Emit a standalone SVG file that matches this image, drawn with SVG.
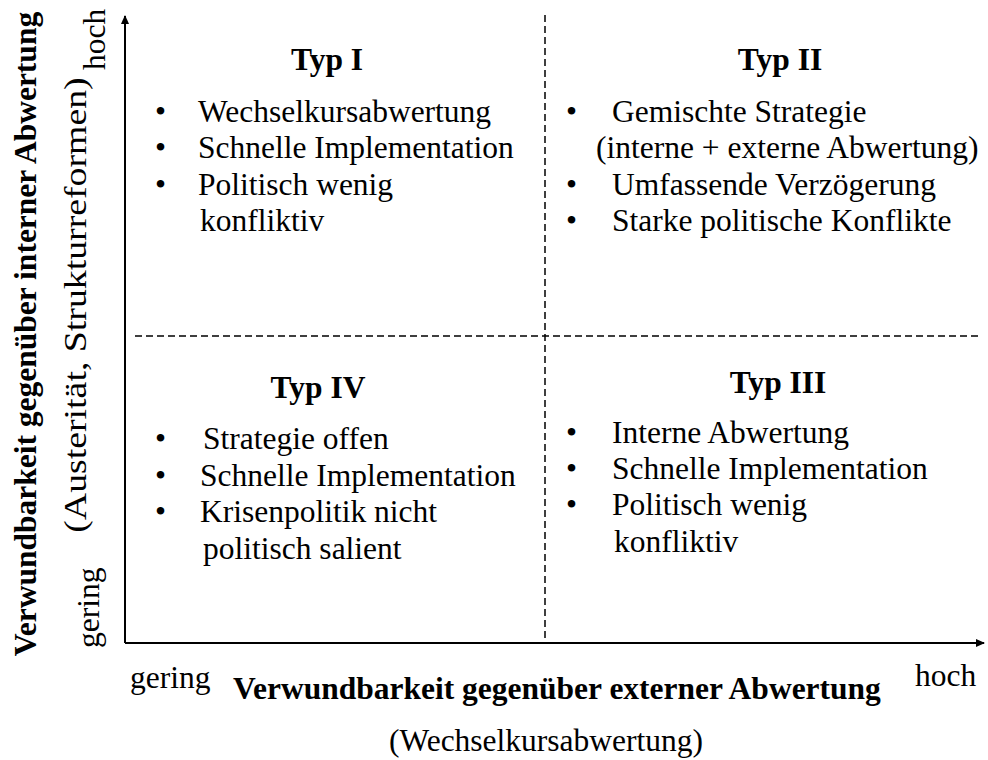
<svg xmlns="http://www.w3.org/2000/svg" width="988" height="760" viewBox="0 0 988 760">
<style>
text{font-family:"Liberation Serif","Times New Roman",Tinos,serif;font-size:31.5px;fill:#000}
.b{font-weight:bold}
.m{text-anchor:middle}
.axis{stroke:#000;stroke-width:2;fill:none}
.dash{stroke:#000;stroke-width:1.5;stroke-dasharray:7 4;fill:none}
</style>
<defs>
<marker id="arr" markerWidth="10" markerHeight="10" refX="8" refY="5" orient="auto" markerUnits="userSpaceOnUse">
<path d="M0,1 L9,5 L0,9 Z" fill="#000"/>
</marker>
</defs>
<rect width="988" height="760" fill="#fff"/>
<g id="connectors">
<line class="dash" x1="545" y1="15" x2="545" y2="643"/>
<line class="dash" x1="135" y1="336" x2="980" y2="336"/>
<line class="axis" x1="125" y1="643" x2="125" y2="16" marker-end="url(#arr)"/>
<line class="axis" x1="125" y1="643" x2="984" y2="643" marker-end="url(#arr)"/>
</g>
<g id="typ1">
<text class="b m" x="327" y="70">Typ I</text>
<text x="155" y="122">•</text>
<text x="155" y="158">•</text>
<text x="155" y="195">•</text>
<text x="198" y="122">Wechselkursabwertung</text>
<text x="198" y="158">Schnelle Implementation</text>
<text x="198" y="195">Politisch wenig</text>
<text x="200" y="231">konfliktiv</text>
</g>
<g id="typ2">
<text class="b m" x="780" y="70">Typ II</text>
<text x="566" y="122">•</text>
<text x="566" y="195">•</text>
<text x="566" y="231">•</text>
<text x="612" y="122">Gemischte Strategie</text>
<text x="596" y="158">(interne + externe Abwertung)</text>
<text x="612" y="195">Umfassende Verzögerung</text>
<text x="612" y="231">Starke politische Konflikte</text>
</g>
<g id="typ4">
<text class="b m" x="318" y="398">Typ IV</text>
<text x="155" y="449">•</text>
<text x="155" y="486">•</text>
<text x="155" y="522">•</text>
<text x="203" y="449">Strategie offen</text>
<text x="200" y="486">Schnelle Implementation</text>
<text x="200" y="522">Krisenpolitik nicht</text>
<text x="203" y="559">politisch salient</text>
</g>
<g id="typ3">
<text class="b m" x="778" y="393">Typ III</text>
<text x="566" y="443">•</text>
<text x="566" y="479">•</text>
<text x="566" y="515">•</text>
<text x="612" y="443">Interne Abwertung</text>
<text x="612" y="479">Schnelle Implementation</text>
<text x="612" y="515">Politisch wenig</text>
<text x="614" y="552">konfliktiv</text>
</g>
<g id="y-axis-labels">
<text class="b m" transform="translate(36,334) rotate(-90)">Verwundbarkeit gegenüber interner Abwertung</text>
<text class="m" transform="translate(86,305) rotate(-90) scale(1.2,1)">(Austerität, Strukturreformen)</text>
<text transform="translate(105,70) rotate(-90)">hoch</text>
<text transform="translate(99,648) rotate(-90)">gering</text>
</g>
<g id="x-axis-labels">
<text x="130" y="688">gering</text>
<text class="b m" x="557" y="699">Verwundbarkeit gegenüber externer Abwertung</text>
<text x="915" y="686">hoch</text>
<text class="m" x="546" y="751">(Wechselkursabwertung)</text>
</g>
</svg>
